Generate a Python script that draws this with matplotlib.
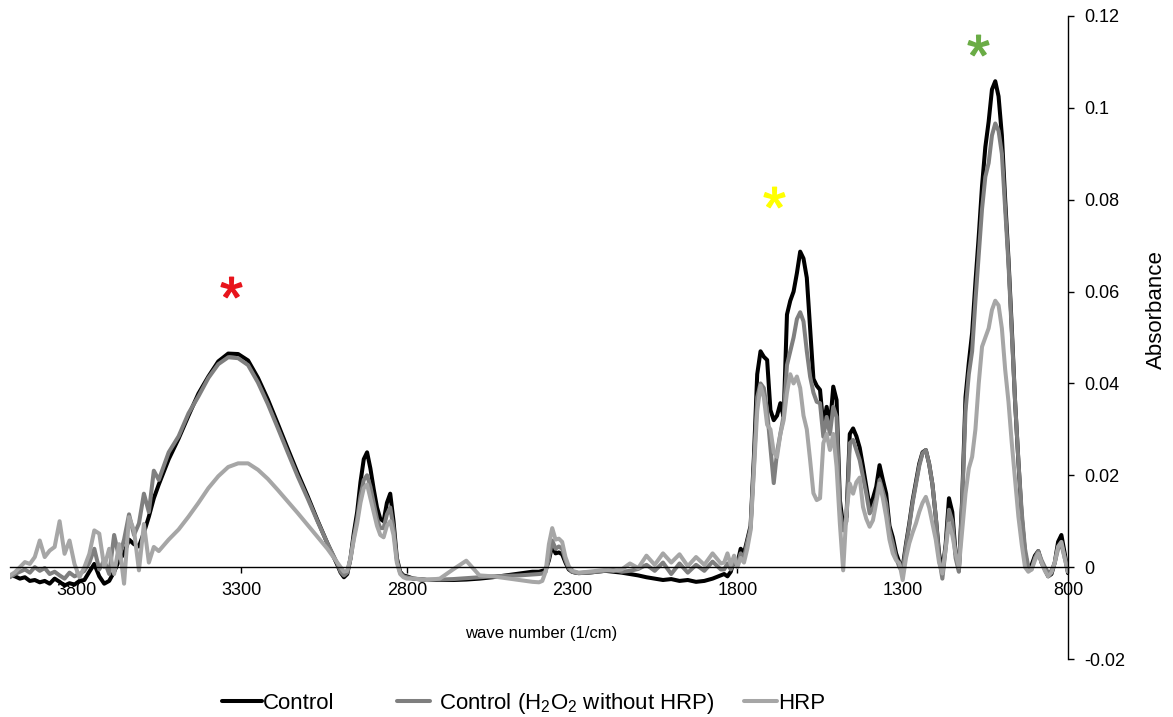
import numpy as np
import matplotlib
matplotlib.use("Agg")
import matplotlib.pyplot as plt

plt.rcParams['font.family'] = ['Liberation Sans', 'DejaVu Sans']
plt.rcParams['mathtext.fontset'] = 'custom'
plt.rcParams['mathtext.rm'] = 'Liberation Sans'
plt.rcParams['mathtext.it'] = 'Liberation Sans:italic'

# wavenumber grid (1/cm), denser where the spectra have structure
wavenumber = np.concatenate([
    np.arange(4000, 3549, -15),   # noisy O-H edge
    np.arange(3520, 3009, -30),   # broad O-H band
    np.arange(3000, 2799, -10),   # C-H stretch
    np.arange(2780, 2419, -40),   # flat region
    np.arange(2400, 2279, -10),   # CO2 doublet
    np.arange(2250, 1849, -25),
    np.arange(1840, 799, -10),    # fingerprint region
])

control = [
    # 4000-3550
    -0.0018, -0.0020, -0.0025, -0.0022, -0.0030, -0.0028, -0.0033, -0.0030, -0.0036, -0.0025,
    -0.0032, -0.0040, -0.0035, -0.0038, -0.0030, -0.0028, -0.0010, 0.0007, -0.0020, -0.0036,
    -0.0030, -0.0010, 0.0015, 0.0030, 0.0060, 0.0050, 0.0045, 0.0075, 0.0110, 0.0150, 0.0180,
    # 3520-3010
    0.0235, 0.0280, 0.0330, 0.0378, 0.0415, 0.0448, 0.0465, 0.0464, 0.0450, 0.0412,
    0.0365, 0.0312, 0.0258, 0.0205, 0.0155, 0.0102, 0.0052, 0.0005,
    # 3000-2800
    -0.0012, -0.0022, -0.0015, 0.0020, 0.0075, 0.0120, 0.0185, 0.0235, 0.0250, 0.0215,
    0.0170, 0.0130, 0.0105, 0.0100, 0.0140, 0.0160, 0.0100, 0.0020, -0.0010, -0.0018, -0.0020,
    # 2780-2420
    -0.0025, -0.0028, -0.0028, -0.0028, -0.0027, -0.0025, -0.0022, -0.0018, -0.0014, -0.0010,
    # 2400-2280
    -0.0010, -0.0008, -0.0006, 0.0015, 0.0048, 0.0030, 0.0032, 0.0028, 0.0010, -0.0005,
    -0.0010, -0.0012, -0.0013,
    # 2250-1850
    -0.0012, -0.0010, -0.0008, -0.0010, -0.0012, -0.0015, -0.0018, -0.0022, -0.0025, -0.0028,
    -0.0026, -0.0030, -0.0028, -0.0032, -0.0030, -0.0025, -0.0018,
    # 1840-800
    -0.0015, -0.0020, -0.0010, 0.0015, 0.0008, 0.0040, 0.0030, 0.0060, 0.0090, 0.0240,
    0.0420, 0.0470, 0.0458, 0.0451, 0.0342, 0.0320, 0.0330, 0.0357, 0.0327, 0.0550,
    0.0580, 0.0600, 0.0640, 0.0687, 0.0672, 0.0630, 0.0520, 0.0410, 0.0395, 0.0386,
    0.0306, 0.0349, 0.0306, 0.0393, 0.0364, 0.0146, 0.0090, 0.0110, 0.0290, 0.0302,
    0.0285, 0.0260, 0.0219, 0.0175, 0.0131, 0.0150, 0.0175, 0.0222, 0.0190, 0.0160,
    0.0090, 0.0065, 0.0030, 0.0010, 0.0000, 0.0050, 0.0095, 0.0145, 0.0185, 0.0225,
    0.0250, 0.0255, 0.0225, 0.0180, 0.0110, 0.0030, -0.0010, 0.0050, 0.0150, 0.0120,
    0.0030, -0.0005, 0.0150, 0.0370, 0.0445, 0.0510, 0.0620, 0.0720, 0.0830, 0.0915,
    0.0970, 0.1040, 0.1058, 0.1025, 0.0940, 0.0800, 0.0670, 0.0520, 0.0360, 0.0230,
    0.0110, 0.0030, -0.0005, 0.0005, 0.0025, 0.0035, 0.0010, -0.0005, -0.0020, -0.0015,
    0.0010, 0.0055, 0.0070, 0.0030, -0.0013,
]

control_h2o2 = [
    # 4000-3550
    -0.0022, -0.0015, -0.0010, -0.0005, -0.0012, 0.0000, -0.0008, -0.0002, -0.0015, -0.0010,
    -0.0018, -0.0025, -0.0012, -0.0020, -0.0015, -0.0008, 0.0010, 0.0040, -0.0005, 0.0015,
    -0.0015, 0.0070, 0.0020, 0.0060, 0.0115, 0.0070, 0.0095, 0.0160, 0.0120, 0.0210, 0.0190,
    # 3520-3010
    0.0250, 0.0285, 0.0335, 0.0372, 0.0412, 0.0442, 0.0457, 0.0455, 0.0440, 0.0402,
    0.0355, 0.0303, 0.0250, 0.0198, 0.0150, 0.0100, 0.0052, 0.0008,
    # 3000-2800
    -0.0010, -0.0018, -0.0012, 0.0018, 0.0065, 0.0105, 0.0155, 0.0190, 0.0200, 0.0175,
    0.0140, 0.0105, 0.0085, 0.0085, 0.0115, 0.0130, 0.0085, 0.0015, -0.0012, -0.0020, -0.0022,
    # 2780-2420
    -0.0025, -0.0027, -0.0027, -0.0026, -0.0024, -0.0022, -0.0020, -0.0019, -0.0018, -0.0016,
    # 2400-2280
    -0.0015, -0.0014, -0.0010, 0.0020, 0.0058, 0.0040, 0.0045, 0.0040, 0.0015, -0.0003,
    -0.0010, -0.0012, -0.0013,
    # 2250-1850
    -0.0012, -0.0010, -0.0008, -0.0006, -0.0010, -0.0008, -0.0004, 0.0005, -0.0008, 0.0010,
    -0.0015, 0.0008, -0.0012, 0.0005, -0.0008, 0.0012, -0.0005,
    # 1840-800
    -0.0005, 0.0008, -0.0005, 0.0015, 0.0005, 0.0030, 0.0020, 0.0055, 0.0085, 0.0220,
    0.0370, 0.0400, 0.0390, 0.0340, 0.0260, 0.0183, 0.0250, 0.0290, 0.0330, 0.0440,
    0.0470, 0.0500, 0.0540, 0.0555, 0.0535, 0.0470, 0.0415, 0.0380, 0.0360, 0.0357,
    0.0284, 0.0327, 0.0290, 0.0349, 0.0327, 0.0125, 0.0080, 0.0100, 0.0270, 0.0277,
    0.0255, 0.0233, 0.0197, 0.0160, 0.0117, 0.0128, 0.0150, 0.0190, 0.0165, 0.0139,
    0.0080, 0.0052, 0.0020, 0.0000, -0.0010, 0.0045, 0.0090, 0.0140, 0.0180, 0.0220,
    0.0248, 0.0255, 0.0225, 0.0180, 0.0110, 0.0020, -0.0025, 0.0040, 0.0125, 0.0100,
    0.0020, -0.0010, 0.0140, 0.0340, 0.0420, 0.0470, 0.0580, 0.0680, 0.0780, 0.0850,
    0.0880, 0.0940, 0.0966, 0.0950, 0.0900, 0.0780, 0.0660, 0.0510, 0.0360, 0.0230,
    0.0120, 0.0040, 0.0000, -0.0005, 0.0020, 0.0035, 0.0015, 0.0000, -0.0012, -0.0008,
    0.0010, 0.0040, 0.0050, 0.0020, -0.0010,
]

hrp = [
    # 4000-3550
    -0.0018, -0.0011, 0.0000, 0.0011, 0.0007, 0.0022, 0.0058, 0.0022, 0.0036, 0.0044,
    0.0100, 0.0029, 0.0058, 0.0007, -0.0022, 0.0000, 0.0029, 0.0080, 0.0073, 0.0000,
    0.0040, -0.0015, 0.0050, -0.0036, 0.0109, 0.0080, -0.0007, 0.0094, 0.0010, 0.0044, 0.0035,
    # 3520-3010
    0.0060, 0.0082, 0.0110, 0.0140, 0.0172, 0.0198, 0.0218, 0.0226, 0.0226, 0.0212,
    0.0192, 0.0168, 0.0143, 0.0118, 0.0092, 0.0066, 0.0040, 0.0010,
    # 3000-2800
    0.0000, -0.0010, -0.0008, 0.0020, 0.0060, 0.0095, 0.0140, 0.0172, 0.0180, 0.0150,
    0.0120, 0.0090, 0.0070, 0.0065, 0.0090, 0.0100, 0.0070, 0.0010, -0.0015, -0.0022, -0.0025,
    # 2780-2420
    -0.0025, -0.0028, -0.0025, -0.0005, 0.0014, -0.0018, -0.0020, -0.0024, -0.0028, -0.0032,
    # 2400-2280
    -0.0033, -0.0030, -0.0010, 0.0050, 0.0085, 0.0060, 0.0062, 0.0055, 0.0022, 0.0002,
    -0.0008, -0.0010, -0.0012,
    # 2250-1850
    -0.0010, -0.0008, -0.0006, -0.0008, -0.0005, 0.0008, -0.0002, 0.0025, 0.0005, 0.0030,
    0.0010, 0.0028, 0.0002, 0.0022, 0.0005, 0.0030, 0.0008,
    # 1840-800
    0.0010, 0.0030, 0.0005, 0.0025, 0.0000, 0.0020, 0.0010, 0.0040, 0.0080, 0.0210,
    0.0340, 0.0395, 0.0370, 0.0310, 0.0300, 0.0250, 0.0240, 0.0290, 0.0320, 0.0380,
    0.0420, 0.0400, 0.0415, 0.0390, 0.0330, 0.0300, 0.0233, 0.0161, 0.0146, 0.0150,
    0.0270, 0.0290, 0.0255, 0.0290, 0.0219, 0.0095, -0.0007, 0.0120, 0.0182, 0.0160,
    0.0185, 0.0195, 0.0131, 0.0105, 0.0088, 0.0102, 0.0140, 0.0182, 0.0150, 0.0110,
    0.0060, 0.0030, 0.0015, 0.0009, -0.0028, 0.0020, 0.0052, 0.0075, 0.0095, 0.0120,
    0.0140, 0.0153, 0.0130, 0.0095, 0.0060, 0.0010, -0.0014, 0.0040, 0.0095, 0.0070,
    0.0030, 0.0000, 0.0080, 0.0160, 0.0215, 0.0240, 0.0300, 0.0400, 0.0480, 0.0500,
    0.0520, 0.0560, 0.0580, 0.0570, 0.0520, 0.0430, 0.0360, 0.0270, 0.0190, 0.0110,
    0.0050, 0.0000, -0.0010, -0.0005, 0.0015, 0.0030, 0.0010, -0.0008, -0.0020, -0.0012,
    0.0010, 0.0045, 0.0055, 0.0020, -0.0010,
]

series_labels = ['Control', ' Control (H$_2$O$_2$ without HRP)', 'HRP']
series_colors = ['#000000', '#7f7f7f', '#a6a6a6']

# band markers: (wavenumber, absorbance, colour)
star_wn = [3333, 1690, 1072]
star_abs = [0.061, 0.0806, 0.1137]
star_colors = ['#e8141c', '#ffff00', '#6aac45']

x_ticks = [3800, 3300, 2800, 2300, 1800, 1300, 800]
y_ticks = [-0.02, 0, 0.02, 0.04, 0.06, 0.08, 0.1, 0.12]
y_tick_labels = ['-0.02', '0', '0.02', '0.04', '0.06', '0.08', '0.1', '0.12']

fig = plt.figure(figsize=(11.73, 7.17), dpi=100)
ax = fig.add_axes([10 / 1173, 58 / 717, 1058 / 1173, 643 / 717])

lines = []
for ys, lab, col in zip([control, control_h2o2, hrp], series_labels, series_colors):
    ln, = ax.plot(wavenumber, ys, color=col, lw=2.9, label=lab,
                  solid_joinstyle='round', solid_capstyle='round')
    lines.append(ln)

for w, a, c in zip(star_wn, star_abs, star_colors):
    ax.plot(w, a, marker='$*$', ms=15, color=c, mew=1.0)

ax.set_xlim(4000, 800)
ax.set_ylim(-0.02, 0.12)

ax.spines['top'].set_visible(False)
ax.spines['left'].set_visible(False)
ax.spines['bottom'].set_position(('data', 0))
ax.spines['bottom'].set_linewidth(1.0)
ax.spines['right'].set_linewidth(1.0)

ax.yaxis.tick_right()
ax.set_yticks(y_ticks)
ax.set_yticklabels(y_tick_labels)
ax.set_xticks(x_ticks)
ax.set_xticklabels([str(t) for t in x_ticks])
ax.tick_params(axis='both', direction='out', length=4, width=1, labelsize=13)
ax.tick_params(axis='x', pad=7)
ax.tick_params(axis='y', pad=8)

ax.set_xlabel('wave number (1/cm)', fontsize=12)
ax.xaxis.set_label_coords(0.502, 0.052)
ax.yaxis.set_label_position('right')
ax.set_ylabel('Absorbance', fontsize=16, rotation=90)
ax.yaxis.set_label_coords(1.074, 0.543)

# one legend entry per block so each can sit where it belongs along the bottom
legend_x = [222 / 1173, 397 / 1173, 744 / 1173]
legend_hl = [1.8, 1.5, 1.5]
legend_pad = [0.05, 0.1, 0.05]
for ln, lx, hl, tp in zip(lines, legend_x, legend_hl, legend_pad):
    fig.legend(handles=[ln], loc='center left', bbox_to_anchor=(lx, 0.0195),
               frameon=False, fontsize=16, handlelength=hl, handletextpad=tp,
               borderpad=0, borderaxespad=0)

fig.savefig('out.png', dpi=100)
